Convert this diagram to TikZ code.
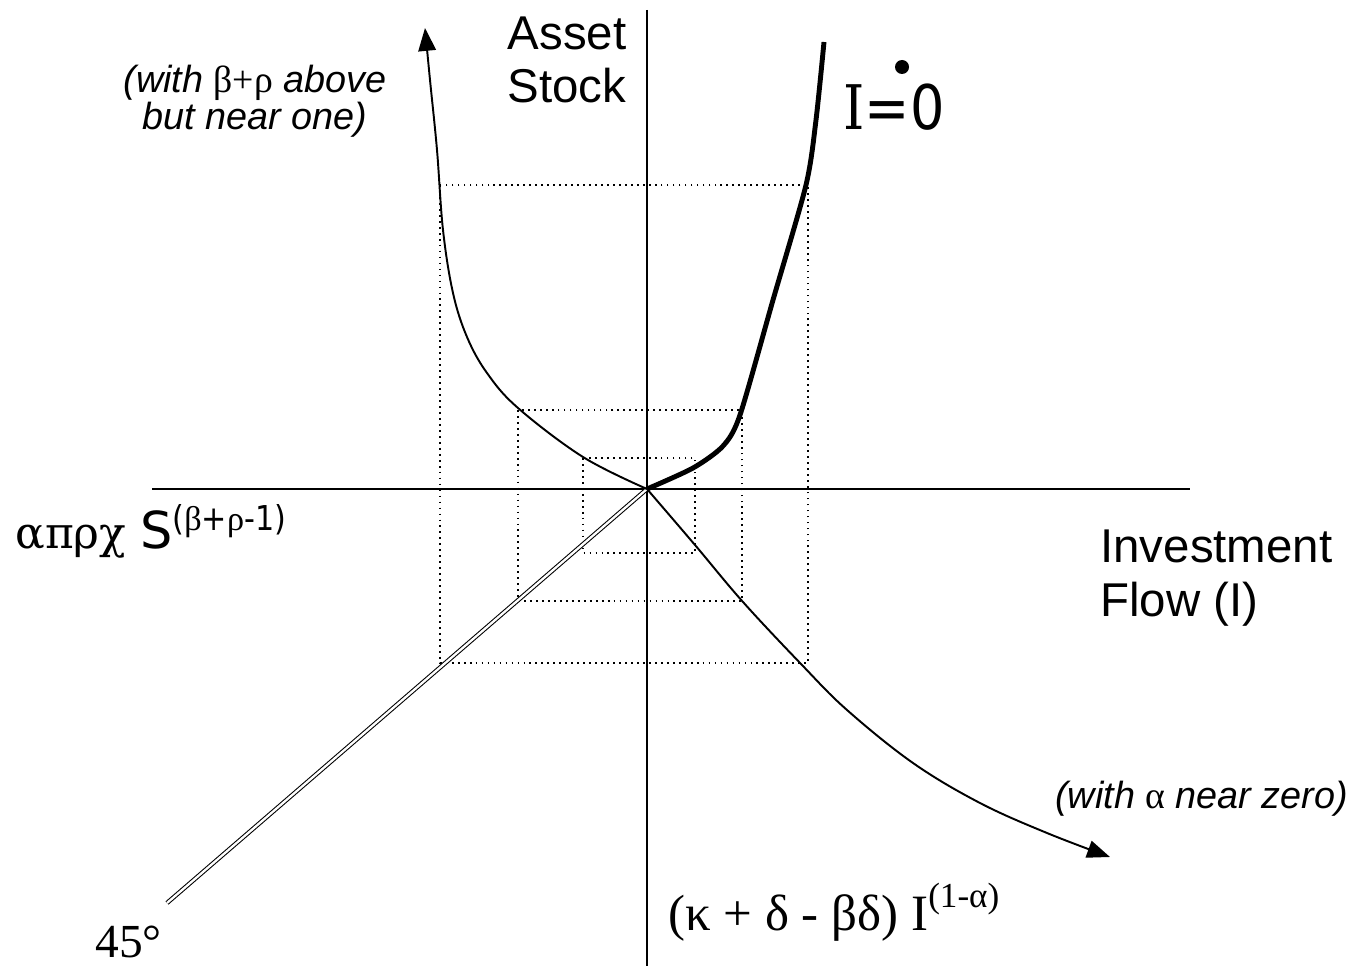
\documentclass[tikz,border=0pt]{standalone}
\usepackage{fontspec}
\setmainfont{Liberation Serif}
\setsansfont{Liberation Sans}
\newfontfamily\dvsans{DejaVu Sans}
\newfontfamily\dvcond[FakeStretch=0.88]{DejaVu Sans}
\newfontfamily\dvserif[FakeStretch=0.88]{DejaVu Serif}
\newfontfamily\grk{DejaVu Serif}
\usetikzlibrary{arrows.meta,calc}
\newcommand{\gk}[1]{{\rmfamily\upshape #1}}
\newcommand{\upidx}[3]{\raisebox{#2}{\fontsize{#1}{#1}\selectfont #3}}

\begin{document}
\begin{tikzpicture}[x=0.02cm,y=-0.02cm,>={Triangle[length=13pt,width=10pt]},
  ax/.style={line width=1.3pt},
  cv/.style={line width=1.1pt},
  thk/.style={line width=2.8pt},
  bx/.style={line width=1pt,dash pattern=on 1pt off 2.4pt},
  dbl/.style={double,double distance=1.3pt,line width=0.6pt},
  lb/.style={font=\sffamily\fontsize{27}{30.5}\selectfont,inner sep=0pt},
  nt/.style={font=\sffamily\itshape\fontsize{21.5}{19.5}\selectfont,inner sep=0pt},
  tx/.style={inner sep=0pt}]
\useasboundingbox (0,0) rectangle (1349,966);
\coordinate (O) at (647,489);
\coordinate (yt) at (647,10);
\coordinate (yb) at (647,966);
\coordinate (xl) at (152,489);
\coordinate (xr) at (1190,489);
\coordinate (fe) at (167,903);
\coordinate (dt) at (902,67);
% dotted boxes
\foreach \p/\q in {{583,458}/{695,553},{518,410}/{742,601},{440,185}/{808,663}}
  \draw[bx] (\p) rectangle (\q);
% axes
\draw[ax] (yt) -- (yb);
\draw[ax] (xl) -- (xr);
\draw[dbl] (O) -- (fe);
% curves
\draw[cv,->] plot[smooth,tension=0.6] coordinates {(O) (583,457) (518,408)
  (487,373) (467,337) (453,293) (443,230) (437,150) (430,80) (425,28)};
\draw[cv,->] plot[smooth,tension=0.6] coordinates {(O) (695,545) (743,602)
  (802,665) (847,710) (913,763) (980,803) (1047,833) (1110,857)};
\draw[thk] plot[smooth,tension=0.45] coordinates {(O) (693,468) (723,446)
  (740,415) (773,300) (806,185) (816,120) (824,42)};
% labels
\node[lb,align=center,anchor=base] (as) at (567,103) {Asset\\Stock};
\node[lb,align=left,anchor=base west] (inv) at (1100,616) {Investment\\Flow (I)};
\node[nt,align=center,anchor=base] (n1) at (255,130) {(with \gk{β+ρ} above\\but near one)};
\node[nt,anchor=base west] (n2) at (1055,808) {(with \gk{α} near zero)};
\node[tx,anchor=base west] (iz) at (843,130)
  {\fontsize{35}{35}\selectfont{\dvserif I}{\dvcond =0}};
\fill (dt) circle (0.14cm);
\node[tx,anchor=base west] (sl) at (15,548)
  {{\grk\fontsize{25}{25}\selectfont απρχ}\hspace{8pt}{\dvsans\fontsize{29}{29}\selectfont S}%
   \upidx{19.5}{10pt}{\dvcond(\gk{β}+\gk{ρ}-1)}};
\node[tx,anchor=base west] (kp) at (668,930)
  {\fontsize{29}{29}\selectfont (κ + δ - βδ) I\upidx{20}{13pt}{(1-α)}};
\node[tx,anchor=base west] (fd) at (95,957) {\fontsize{27}{27}\selectfont 45°};
\end{tikzpicture}
\end{document}
